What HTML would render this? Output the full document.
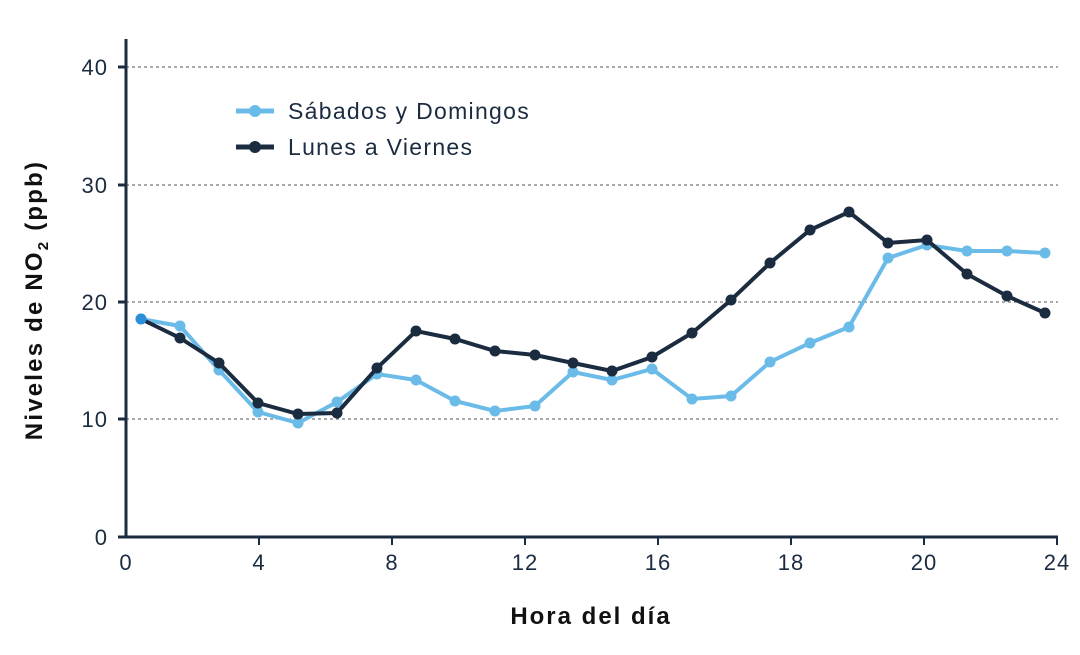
<!DOCTYPE html>
<html><head><meta charset="utf-8"><style>
html,body{margin:0;padding:0;background:#fff}
svg{display:block;font-family:"Liberation Sans",sans-serif}
</style></head><body>
<svg width="1080" height="655" viewBox="0 0 1080 655" xmlns="http://www.w3.org/2000/svg">
<g stroke="#555" stroke-width="1" stroke-dasharray="3,3">
<line x1="126" y1="67" x2="1058" y2="67"/>
<line x1="126" y1="185" x2="1058" y2="185"/>
<line x1="126" y1="302" x2="1058" y2="302"/>
<line x1="126" y1="419" x2="1058" y2="419"/>
</g>
<g stroke="#1b2b40" stroke-width="3">
<line x1="126" y1="39" x2="126" y2="538"/>
<line x1="124" y1="537" x2="1058" y2="537"/>
<line x1="118" y1="67" x2="126" y2="67"/>
<line x1="118" y1="185" x2="126" y2="185"/>
<line x1="118" y1="302" x2="126" y2="302"/>
<line x1="118" y1="419" x2="126" y2="419"/>
<line x1="118" y1="537" x2="126" y2="537"/>
</g>
<g stroke="#1b2b40" stroke-width="2">
<line x1="259" y1="537" x2="259" y2="545"/><line x1="392" y1="537" x2="392" y2="545"/>
<line x1="525" y1="537" x2="525" y2="545"/><line x1="658" y1="537" x2="658" y2="545"/>
<line x1="791" y1="537" x2="791" y2="545"/><line x1="924" y1="537" x2="924" y2="545"/>
<line x1="1057" y1="537" x2="1057" y2="545"/>
</g>
<g fill="#1b2b40" font-size="22" text-anchor="end" letter-spacing="1">
<text x="108" y="75">40</text><text x="108" y="193">30</text><text x="108" y="310">20</text>
<text x="108" y="427">10</text><text x="108" y="545">0</text>
</g>
<g fill="#1b2b40" font-size="22" text-anchor="middle" letter-spacing="1">
<text x="126" y="570">0</text><text x="259" y="570">4</text><text x="392" y="570">8</text>
<text x="525" y="570">12</text><text x="658" y="570">16</text><text x="791" y="570">18</text>
<text x="924" y="570">20</text><text x="1057" y="570">24</text>
</g>
<text x="591" y="624" text-anchor="middle" font-size="24" font-weight="bold" fill="#111" letter-spacing="2">Hora del día</text>
<text transform="translate(42,300) rotate(-90)" text-anchor="middle" font-size="24" font-weight="bold" fill="#111" letter-spacing="2.2">Niveles de NO<tspan font-size="15" dy="6">2</tspan><tspan dy="-6"> (ppb)</tspan></text>
<polyline fill="none" stroke="#6bbbe8" stroke-width="4" points="141,319 180,326 219,370 258,412 298,423 337,402 377,374 416,380 455,401 495,411 535,406 573,372 612,380 652,369 692,399 731,396 770,362 810,343 849,327 888,258 927,245 967,251 1007,251 1045,253"/>
<g fill="#6bbbe8">
<circle cx="141" cy="319" r="5.5"/><circle cx="180" cy="326" r="5.5"/><circle cx="219" cy="370" r="5.5"/><circle cx="258" cy="412" r="5.5"/><circle cx="298" cy="423" r="5.5"/><circle cx="337" cy="402" r="5.5"/><circle cx="377" cy="374" r="5.5"/><circle cx="416" cy="380" r="5.5"/><circle cx="455" cy="401" r="5.5"/><circle cx="495" cy="411" r="5.5"/><circle cx="535" cy="406" r="5.5"/><circle cx="573" cy="372" r="5.5"/><circle cx="612" cy="380" r="5.5"/><circle cx="652" cy="369" r="5.5"/><circle cx="692" cy="399" r="5.5"/><circle cx="731" cy="396" r="5.5"/><circle cx="770" cy="362" r="5.5"/><circle cx="810" cy="343" r="5.5"/><circle cx="849" cy="327" r="5.5"/><circle cx="888" cy="258" r="5.5"/><circle cx="927" cy="245" r="5.5"/><circle cx="967" cy="251" r="5.5"/><circle cx="1007" cy="251" r="5.5"/><circle cx="1045" cy="253" r="5.5"/>
</g>
<polyline fill="none" stroke="#1b2b40" stroke-width="4" points="141,319 180,338 219,363 258,403 298,414 337,413 377,368 416,331 455,339 495,351 535,355 573,363 612,371 652,357 692,333 731,300 770,263 810,230 849,212 888,243 927,240 967,274 1007,296 1045,313"/>
<g fill="#1b2b40">
<circle cx="180" cy="338" r="5.5"/><circle cx="219" cy="363" r="5.5"/><circle cx="258" cy="403" r="5.5"/><circle cx="298" cy="414" r="5.5"/><circle cx="337" cy="413" r="5.5"/><circle cx="377" cy="368" r="5.5"/><circle cx="416" cy="331" r="5.5"/><circle cx="455" cy="339" r="5.5"/><circle cx="495" cy="351" r="5.5"/><circle cx="535" cy="355" r="5.5"/><circle cx="573" cy="363" r="5.5"/><circle cx="612" cy="371" r="5.5"/><circle cx="652" cy="357" r="5.5"/><circle cx="692" cy="333" r="5.5"/><circle cx="731" cy="300" r="5.5"/><circle cx="770" cy="263" r="5.5"/><circle cx="810" cy="230" r="5.5"/><circle cx="849" cy="212" r="5.5"/><circle cx="888" cy="243" r="5.5"/><circle cx="967" cy="274" r="5.5"/><circle cx="1007" cy="296" r="5.5"/><circle cx="1045" cy="313" r="5.5"/>
</g>
<circle cx="927" cy="240" r="5.5" fill="#1b2b40"/>
<circle cx="141" cy="319" r="5.5" fill="#2a8fd8"/>
<line x1="236" y1="111" x2="274" y2="111" stroke="#6bbbe8" stroke-width="5"/>
<circle cx="255" cy="111" r="6" fill="#6bbbe8"/>
<line x1="236" y1="147" x2="274" y2="147" stroke="#1b2b40" stroke-width="5"/>
<circle cx="255" cy="147" r="6" fill="#1b2b40"/>
<text x="288" y="119" font-size="23" fill="#1b2b40" letter-spacing="1.3">Sábados y Domingos</text>
<text x="288" y="155" font-size="23" fill="#1b2b40" letter-spacing="1.3">Lunes a Viernes</text>
</svg>
</body></html>
